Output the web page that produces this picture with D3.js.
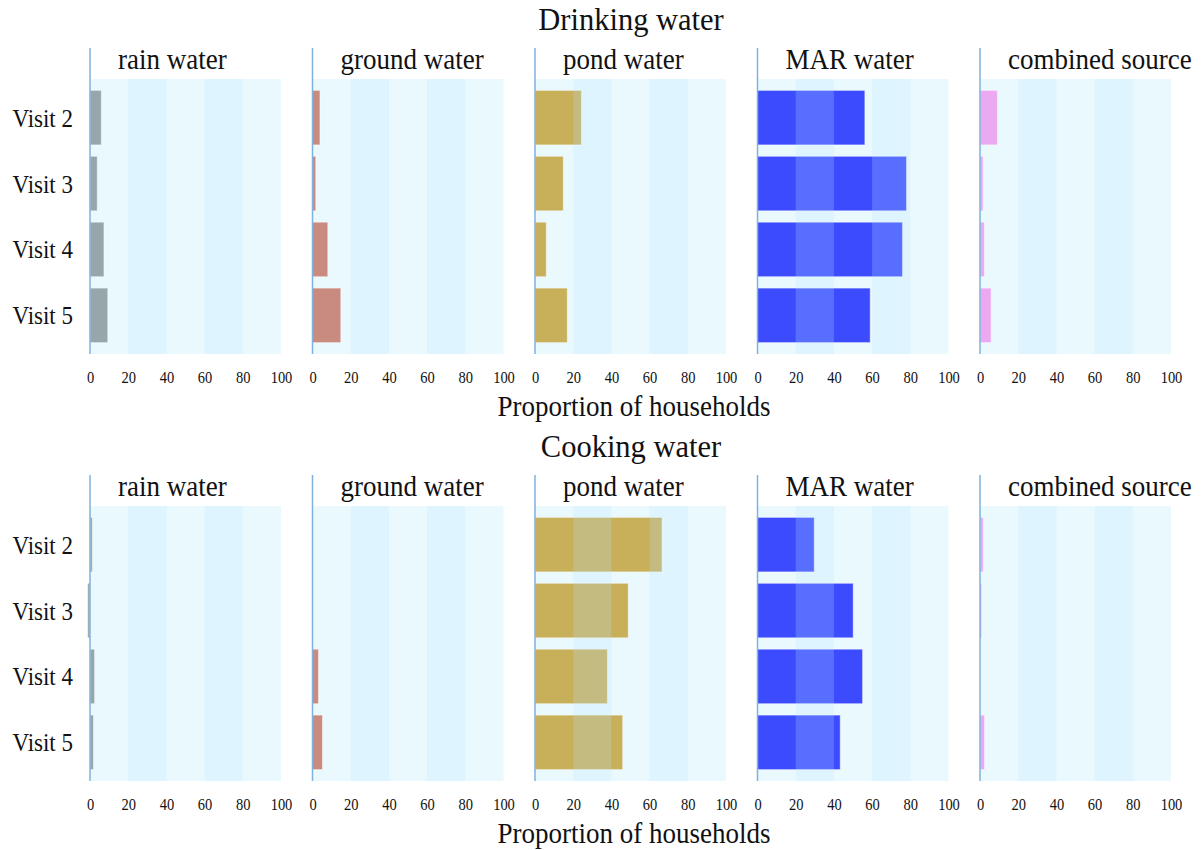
<!DOCTYPE html>
<html>
<head>
<meta charset="utf-8">
<script src="https://cdn.jsdelivr.net/npm/d3@7"></script>
<style>
  html, body { margin: 0; padding: 0; background: #ffffff; }
  svg { display: block; }
  text { font-family: "Liberation Serif", "Times New Roman", serif; fill: #111; }
</style>
</head>
<body>
<svg id="chart" width="1204" height="850"></svg>
<script>
// Share of households using each water source, per survey visit (%)
const visits = ["Visit 2", "Visit 3", "Visit 4", "Visit 5"];
const sources = ["rain water", "ground water", "pond water", "MAR water", "combined source"];
const sourceColors = ["#97a6aa", "#c98a80", "#c8af5a", "#3d4bff", "#eba9f1"];
const xTicks = [0, 20, 40, 60, 80, 100];
const sectionTitles = ["Drinking water", "Cooking water"];
const axisTitle = "Proportion of households";

// Drinking water
const drinkingRain     = [5.9, 3.8, 7.3, 9.3];
const drinkingGround   = [3.9, 1.7, 8.0, 14.8];
const drinkingPond     = [24.3, 14.8, 5.9, 16.9];
const drinkingMAR      = [56.2, 78.0, 75.9, 59.0];
const drinkingCombined = [9.1, 1.6, 2.3, 5.8];

// Cooking water
const cookingRain     = [1.2, -1.2, 2.4, 1.8];
const cookingGround   = [0, 0, 3.1, 5.2];
const cookingPond     = [66.5, 48.8, 37.9, 45.9];
const cookingMAR      = [29.7, 50.1, 55.0, 43.3];
const cookingCombined = [1.7, 0.9, 0, 2.4];

const sections = [
  { title: sectionTitles[0], series: [drinkingRain, drinkingGround, drinkingPond, drinkingMAR, drinkingCombined] },
  { title: sectionTitles[1], series: [cookingRain, cookingGround, cookingPond, cookingMAR, cookingCombined] }
];

const svg = d3.select("#chart");

const panelLeft = 90, panelStep = 222.5, panelWidth = 191;
const sectionHeight = 427;
const plotTop = 79, plotBottom = 354;

const x = d3.scaleLinear().domain([0, 100]).range([0, panelWidth]);
const y = d3.scaleBand().domain(visits).range([plotTop, plotBottom])
  .paddingInner(0.173).paddingOuter(0.173);

// alternating shaded stripes every 20 units
const stripes = d3.pairs(xTicks).filter((d, i) => i % 2 === 1);

// text with a slightly taller-than-wide glyph shape
function label(parent, px, py, txt, size, anchor, sy) {
  return parent.append("text")
    .attr("transform", `translate(${px},${py}) scale(1,${sy})`)
    .attr("text-anchor", anchor)
    .style("font-size", size + "px")
    .text(txt);
}

sections.forEach((sec, si) => {
  const g = svg.append("g").attr("transform", `translate(0,${si * sectionHeight})`);

  label(g, 631, 30, sec.title, 30.5, "middle", 1.05);
  label(g, 634, 416, axisTitle, 27, "middle", 1.1);

  visits.forEach(v => {
    label(g, 73, y(v) + y.bandwidth() / 2 + 9, v, 23, "end", 1.1);
  });

  sources.forEach((src, pi) => {
    const p = g.append("g").attr("transform", `translate(${panelLeft + pi * panelStep},0)`);
    const values = sec.series[pi];

    p.append("rect")
      .attr("x", x(0)).attr("y", plotTop)
      .attr("width", x(100) - x(0)).attr("height", plotBottom - plotTop)
      .attr("fill", "#eaf9fe");

    p.selectAll("rect.bar")
      .data(values)
      .join("rect")
      .attr("class", "bar")
      .attr("x", d => Math.min(x(0), x(d)))
      .attr("y", (d, i) => y(visits[i]))
      .attr("width", d => Math.abs(x(d) - x(0)))
      .attr("height", y.bandwidth())
      .attr("fill", sourceColors[pi])
      .attr("stroke", "#ffffff")
      .attr("stroke-opacity", 0.45)
      .attr("stroke-width", 1);

    p.selectAll("rect.stripe")
      .data(stripes)
      .join("rect")
      .attr("class", "stripe")
      .attr("x", d => x(d[0]))
      .attr("y", plotTop)
      .attr("width", d => x(d[1]) - x(d[0]))
      .attr("height", plotBottom - plotTop)
      .attr("fill", "rgb(180,230,253)")
      .attr("fill-opacity", 0.23);

    p.append("line")
      .attr("x1", x(0)).attr("x2", x(0))
      .attr("y1", 48).attr("y2", plotBottom)
      .attr("stroke", "#7fb2de")
      .attr("stroke-width", 1.5);

    label(p, x(0) + 28, 69, src, 27, "start", 1.1);

    const tickScaleY = 1.15;
    const axis = d3.axisBottom(x).tickValues(xTicks).tickSize(0).tickPadding(0);
    const ag = p.append("g").attr("transform", `translate(0,${plotBottom})`).call(axis);
    ag.select(".domain").remove();
    ag.selectAll("text")
      .attr("y", 29 / tickScaleY)
      .attr("dy", 0)
      .attr("transform", `scale(1,${tickScaleY})`)
      .style("font-size", "14.5px")
      .style("font-family", "'Liberation Serif', serif")
      .attr("fill", "#222");
  });
});
</script>
</body>
</html>
